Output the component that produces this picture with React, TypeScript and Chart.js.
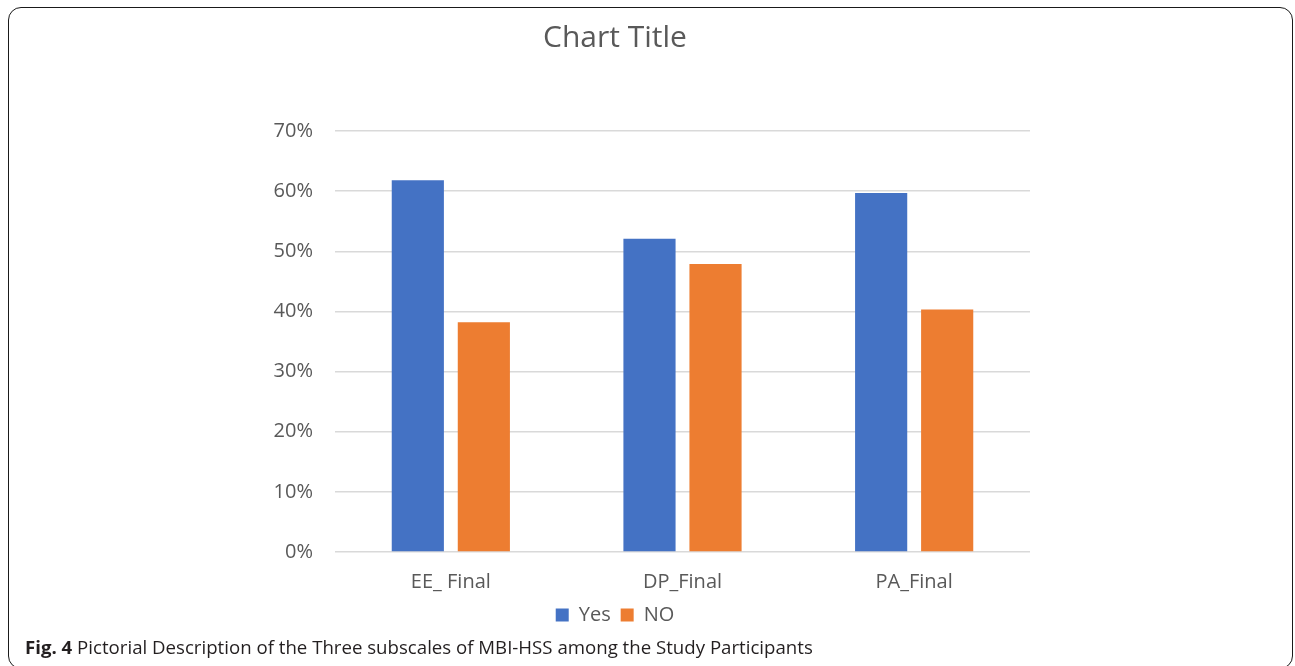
import React, { useEffect, useRef } from "react";
import { Chart, registerables } from "chart.js";

Chart.register(...registerables);

// Subscale categories and the share of participants in each group
const categories = ["EE_ Final", "DP_Final", "PA_Final"];
const yesValues = [61.8, 52.1, 59.7];
const noValues = [38.2, 47.9, 40.3];
const seriesNames = ["Yes", "NO"];
const yTicks = [0, 10, 20, 30, 40, 50, 60, 70];

const TEXT_GRAY = "#595959";
const FONT = "'Open Sans', 'Noto Sans', sans-serif";

export default function App() {
  const canvasRef = useRef<HTMLCanvasElement | null>(null);

  useEffect(() => {
    const canvas = canvasRef.current;
    if (!canvas) return;
    const chart = new Chart(canvas, {
      type: "bar",
      data: {
        labels: categories,
        datasets: [
          {
            label: seriesNames[0],
            data: yesValues,
            backgroundColor: "#4472C4",
            categoryPercentage: 0.57,
            barPercentage: 0.79,
          },
          {
            label: seriesNames[1],
            data: noValues,
            backgroundColor: "#ED7D31",
            categoryPercentage: 0.57,
            barPercentage: 0.79,
          },
        ],
      },
      options: {
        animation: false,
        responsive: false,
        maintainAspectRatio: false,
        layout: { padding: 0 },
        plugins: {
          title: {
            display: true,
            text: "Chart Title",
            color: TEXT_GRAY,
            font: { family: FONT, size: 30, weight: "normal" },
            padding: { top: 10, bottom: 75 },
          },
          legend: {
            display: true,
            position: "bottom",
            labels: {
              color: TEXT_GRAY,
              font: { family: FONT, size: 20 },
              boxWidth: 13,
              boxHeight: 13,
              padding: 10,
            },
          },
          tooltip: { enabled: false },
        },
        scales: {
          x: {
            grid: { display: false, drawTicks: false },
            border: { display: false },
            ticks: {
              color: TEXT_GRAY,
              font: { family: FONT, size: 20 },
              padding: 18,
              maxRotation: 0,
            },
            afterFit: (scale: any) => {
              scale.height = 43;
            },
          },
          y: {
            min: 0,
            max: 70,
            afterBuildTicks: (scale: any) => {
              scale.ticks = yTicks.map((v) => ({ value: v }));
            },
            grid: { color: "#d9d9d9", lineWidth: 1.5, drawTicks: false },
            border: { display: false },
            ticks: {
              color: TEXT_GRAY,
              font: { family: FONT, size: 20 },
              padding: 22,
              callback: (v: any) => `${v}%`,
            },
            afterFit: (scale: any) => {
              scale.width = 135;
            },
          },
        },
      },
    });
    return () => chart.destroy();
  }, []);

  return (
    <div
      style={{
        position: "fixed",
        left: 0,
        top: 0,
        width: 1295,
        height: 666,
        background: "#ffffff",
        overflow: "hidden",
      }}
    >
      <div
        style={{
          position: "absolute",
          left: 8,
          top: 7,
          width: 1283,
          height: 660,
          border: "1.5px solid #1a1a1a",
          borderRadius: 13,
        }}
      />
      <canvas
        ref={canvasRef}
        width={830}
        height={625}
        style={{ position: "absolute", left: 200, top: 10, width: 830, height: 625 }}
      />
      <div
        style={{
          position: "absolute",
          left: 25,
          top: 634,
          fontFamily: FONT,
          fontSize: 18.65,
          color: "#231f20",
          whiteSpace: "nowrap",
        }}
      >
        <b>Fig. 4</b> Pictorial Description of the Three subscales of MBI-HSS among the Study Participants
      </div>
    </div>
  );
}
